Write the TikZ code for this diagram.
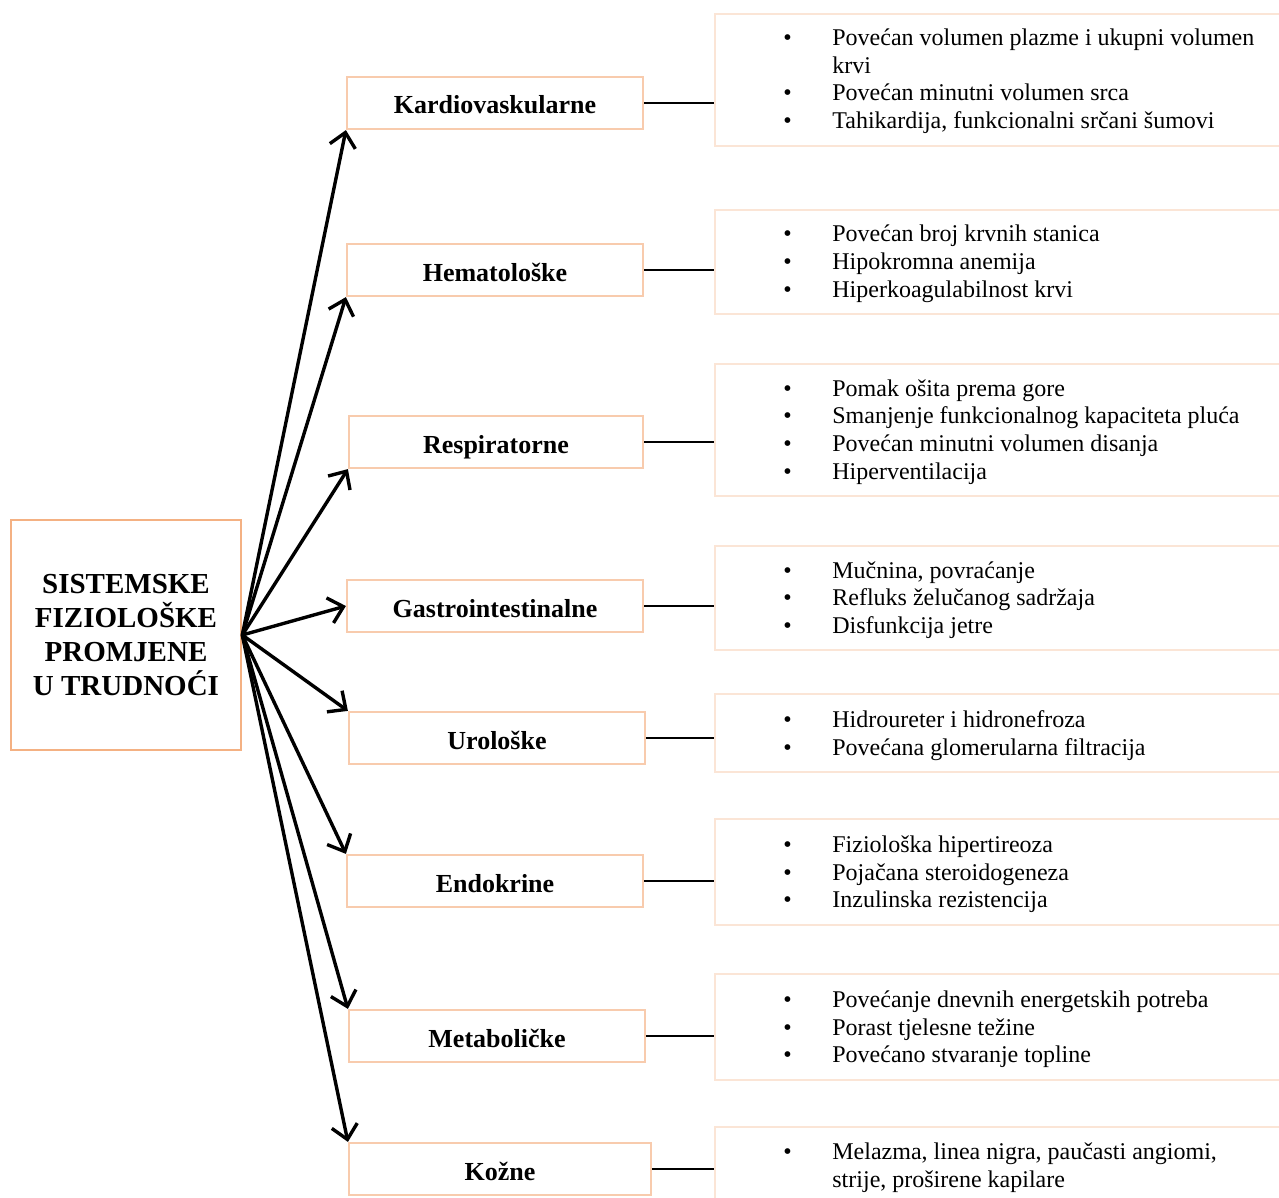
\documentclass[tikz,border=0pt]{standalone}
\usepackage{fontspec}
\setmainfont{Liberation Serif}
\usetikzlibrary{arrows.meta}
\definecolor{cbord}{HTML}{F4B183}
\definecolor{mbord}{HTML}{F8CBAD}
\definecolor{rbord}{HTML}{FBE5D6}
\newcommand\bl[1]{\makebox[24.5pt][l]{•}#1}
\newcommand\cl[1]{\hspace*{24.5pt}#1}
\tikzset{
  cbox/.style={draw=cbord, line width=1.3pt, minimum width=115pt, minimum height=115pt, align=center, font=\fontsize{14.5}{17}\selectfont\bfseries, inner sep=0pt},
  mbox/.style={draw=mbord, line width=1.1pt, minimum width=148pt, minimum height=26pt, font=\fontsize{13}{15}\selectfont\bfseries, inner sep=0pt, text height=11pt, text depth=0pt},
  rbox/.style={draw=rbord, line width=1pt, minimum width=285.5pt, anchor=north west, inner sep=0pt},
  itemtxt/.style={anchor=mid west, inner sep=0pt, font=\fontsize{12}{13.8}\selectfont},
  arr/.style={line width=1.7pt, -{Straight Barb[length=7pt,width=13pt,line width=1.7pt]}},
  conn/.style={line width=1.2pt}
}
\begin{document}
\begin{tikzpicture}[x=0.5pt,y=-0.5pt]
\useasboundingbox (0,0) rectangle (1279,1198);
\clip (0,0) rectangle (1279,1198);
% central
\node[cbox] (c) at (126,635) {SISTEMSKE\\FIZIOLOŠKE\\PROMJENE\\U TRUDNOĆI};
% middle boxes
\node[mbox] (m1) at (495,103) {Kardiovaskularne};
\node[mbox] (m2) at (495,270) {Hematološke};
\node[mbox, minimum width=147pt] (m3) at (496,442) {Respiratorne};
\node[mbox] (m4) at (495,606) {Gastrointestinalne};
\node[mbox] (m5) at (497,738) {Urološke};
\node[mbox] (m6) at (495,881) {Endokrine};
\node[mbox] (m7) at (497,1036) {Metaboličke};
\node[mbox, minimum width=151pt] (m8) at (500,1169) {Kožne};
% right boxes
\node[rbox, minimum height=66pt] (r1) at (714,13) {};
\node[rbox, minimum height=52pt] (r2) at (714,209) {};
\node[rbox, minimum height=66pt] (r3) at (714,363) {};
\node[rbox, minimum height=52pt] (r4) at (714,545) {};
\node[rbox, minimum height=39pt] (r5) at (714,693) {};
\node[rbox, minimum height=53pt] (r6) at (714,818) {};
\node[rbox, minimum height=53pt] (r7) at (714,973) {};
\node[rbox, minimum height=40pt] (r8) at (714,1126) {};
% items
\node[itemtxt] (t1a) at (783,41) {\bl{Povećan volumen plazme i ukupni volumen}};
\node[itemtxt] (t1b) at (783,69) {\cl{krvi}};
\node[itemtxt] (t1c) at (783,96) {\bl{Povećan minutni volumen srca}};
\node[itemtxt] (t1d) at (783,124) {\bl{Tahikardija, funkcionalni srčani šumovi}};
\node[itemtxt] (t2a) at (783,237) {\bl{Povećan broj krvnih stanica}};
\node[itemtxt] (t2b) at (783,265) {\bl{Hipokromna anemija}};
\node[itemtxt] (t2c) at (783,293) {\bl{Hiperkoagulabilnost krvi}};
\node[itemtxt] (t3a) at (783,392) {\bl{Pomak ošita prema gore}};
\node[itemtxt] (t3b) at (783,419) {\bl{Smanjenje funkcionalnog kapaciteta pluća}};
\node[itemtxt] (t3c) at (783,447) {\bl{Povećan minutni volumen disanja}};
\node[itemtxt] (t3d) at (783,475) {\bl{Hiperventilacija}};
\node[itemtxt] (t4a) at (783,574) {\bl{Mučnina, povraćanje}};
\node[itemtxt] (t4b) at (783,601) {\bl{Refluks želučanog sadržaja}};
\node[itemtxt] (t4c) at (783,629) {\bl{Disfunkcija jetre}};
\node[itemtxt] (t5a) at (783,723) {\bl{Hidroureter i hidronefroza}};
\node[itemtxt] (t5b) at (783,751) {\bl{Povećana glomerularna filtracija}};
\node[itemtxt] (t6a) at (783,848) {\bl{Fiziološka hipertireoza}};
\node[itemtxt] (t6b) at (783,876) {\bl{Pojačana steroidogeneza}};
\node[itemtxt] (t6c) at (783,903) {\bl{Inzulinska rezistencija}};
\node[itemtxt] (t7a) at (783,1003) {\bl{Povećanje dnevnih energetskih potreba}};
\node[itemtxt] (t7b) at (783,1031) {\bl{Porast tjelesne težine}};
\node[itemtxt] (t7c) at (783,1058) {\bl{Povećano stvaranje topline}};
\node[itemtxt] (t8a) at (783,1155) {\bl{Melazma, linea nigra, paučasti angiomi,}};
\node[itemtxt] (t8b) at (783,1183) {\cl{strije, proširene kapilare}};
% connectors
\foreach \i in {1,...,8}{
  \draw[conn] (m\i.east) -- (m\i.east -| r\i.west);
}
% arrows
\draw[arr] (c.east) -- (m1.south west);
\draw[arr] (c.east) -- (m2.south west);
\draw[arr] (c.east) -- (m3.south west);
\draw[arr] (c.east) -- (m4.west);
\draw[arr] (c.east) -- (m5.north west);
\draw[arr] (c.east) -- (m6.north west);
\draw[arr] (c.east) -- (m7.north west);
\draw[arr] (c.east) -- (m8.north west);
\end{tikzpicture}
\end{document}
